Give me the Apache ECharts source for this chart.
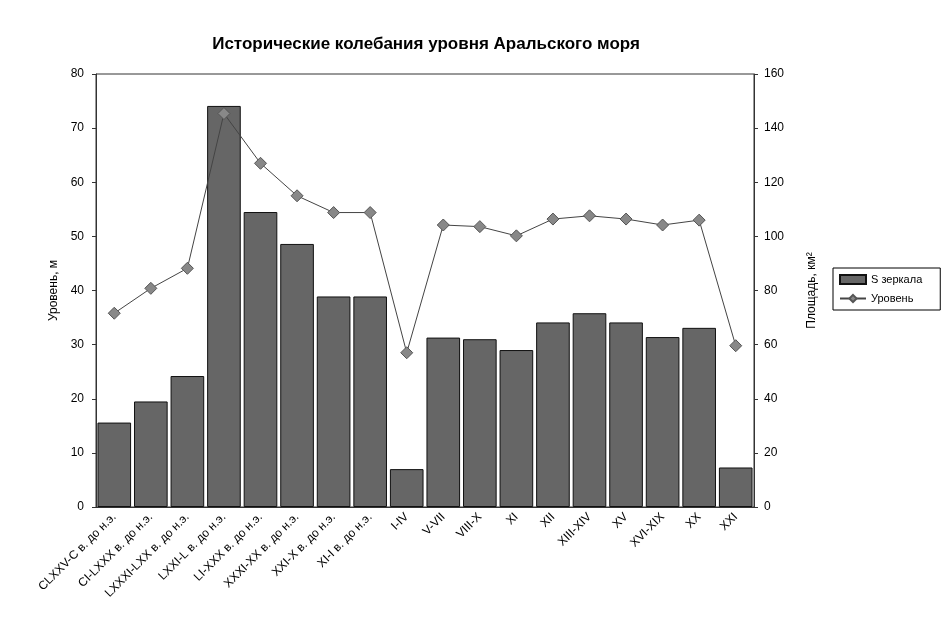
<!DOCTYPE html>
<html>
<head>
<meta charset="utf-8">
<script src="https://cdn.jsdelivr.net/npm/echarts@6/dist/echarts.min.js"></script>
<style>
  html, body { margin: 0; padding: 0; background: #fff; }
  #chart { width: 945px; height: 628px; }
</style>
</head>
<body>
<div id="chart"></div>
<script>
// периоды
const categories = [
  'CLXXV-C в. до н.э.', 'CI-LXXX в. до н.э.', 'LXXXI-LXX в. до н.э.', 'LXXI-L в. до н.э.',
  'LI-XXX в. до н.э.', 'XXXI-XX в. до н.э.', 'XXI-X в. до н.э.', 'XI-I в. до н.э.',
  'I-IV', 'V-VII', 'VIII-X', 'XI', 'XII', 'XIII-XIV', 'XV', 'XVI-XIX', 'XX', 'XXI'
]
// площадь зеркала, тыс. км2 (правая ось)
const areaValues = [31.2, 39, 48.4, 148.2, 109, 97.2, 77.8, 77.8, 14, 62.6, 62, 58, 68.2, 71.6, 68.2, 62.8, 66.2, 14.6]
// уровень, м (левая ось)
const levelValues = [35.8, 40.4, 44.1, 72.7, 63.5, 57.5, 54.4, 54.4, 28.5, 52.1, 51.8, 50.1, 53.2, 53.8, 53.2, 52.1, 53.0, 29.8]

const font = 'Liberation Sans, Arial, sans-serif'

const chart = echarts.init(document.getElementById('chart'))
chart.setOption({
  animation: false,
  backgroundColor: '#fff',
  textStyle: { fontFamily: font },
  title: {
    text: 'Исторические колебания уровня Аральского моря',
    left: 421,
    top: 31,
    textAlign: 'center',
    textStyle: { fontSize: 17, fontWeight: 'bold', color: '#000', fontFamily: font },
  },
  legend: {
    orient: 'vertical',
    left: 833,
    top: 268,
    padding: [6, 18, 6, 6],
    itemGap: 8,
    itemWidth: 26,
    itemHeight: 9,
    borderColor: '#000',
    borderWidth: 1,
    borderRadius: 0,
    textStyle: { fontSize: 11, color: '#000' },
    data: [{ name: 'S зеркала', icon: 'rect' }, { name: 'Уровень' }],
  },
  grid: {
    left: 96,
    right: 191,
    top: 74,
    bottom: 121,
    show: true,
    borderColor: '#333',
    borderWidth: 1,
  },
  xAxis: {
    type: 'category',
    data: categories,
    axisLine: { lineStyle: { color: '#333' } },
    axisTick: { inside: true, length: 4, lineStyle: { color: '#000' } },
    axisLabel: { rotate: 45, fontSize: 12, color: '#000', margin: 8, interval: 0 },
  },
  yAxis: [
    {
      type: 'value',
      min: 0,
      max: 80,
      interval: 10,
      name: 'Уровень, м',
      nameLocation: 'middle',
      nameRotate: 90,
      nameGap: 34,
      nameTextStyle: { fontSize: 12, color: '#000' },
      axisLine: { show: true, lineStyle: { color: '#333' } },
      axisTick: { show: true, length: 4, lineStyle: { color: '#333' } },
      axisLabel: { fontSize: 12, color: '#000', margin: 12 },
      splitLine: { show: false },
    },
    {
      type: 'value',
      min: 0,
      max: 160,
      interval: 20,
      name: 'Площадь, км²',
      nameLocation: 'middle',
      nameRotate: 90,
      nameGap: 52,
      nameTextStyle: { fontSize: 12, color: '#000' },
      axisLine: { show: true, lineStyle: { color: '#333' } },
      axisTick: { show: true, length: 4, lineStyle: { color: '#333' } },
      axisLabel: { fontSize: 12, color: '#000', margin: 10 },
      splitLine: { show: false },
    },
  ],
  series: [
    {
      name: 'S зеркала',
      type: 'bar',
      yAxisIndex: 1,
      data: areaValues,
      barCategoryGap: '8%',
      itemStyle: { color: '#666', borderColor: '#111', borderWidth: 1 },
    },
    {
      name: 'Уровень',
      type: 'line',
      yAxisIndex: 0,
      data: levelValues,
      symbol: 'diamond',
      symbolSize: 12,
      lineStyle: { color: '#444', width: 1 },
      itemStyle: { color: '#888', borderColor: '#555', borderWidth: 1 },
    },
  ],
})
</script>
</body>
</html>
